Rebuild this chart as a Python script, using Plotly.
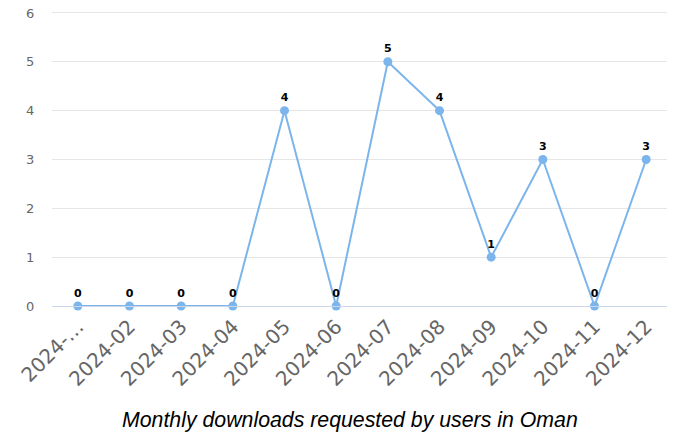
import plotly.graph_objects as go

months = ["2024-01", "2024-02", "2024-03", "2024-04", "2024-05", "2024-06",
          "2024-07", "2024-08", "2024-09", "2024-10", "2024-11", "2024-12"]
tick_labels = ["2024-…", "2024-02", "2024-03", "2024-04", "2024-05", "2024-06",
               "2024-07", "2024-08", "2024-09", "2024-10", "2024-11", "2024-12"]
downloads = [0, 0, 0, 0, 4, 0, 5, 4, 1, 3, 0, 3]
y_ticks = [0, 1, 2, 3, 4, 5, 6]
title_text = "Monthly downloads requested by users in Oman"

fig = go.Figure()
fig.add_trace(go.Scatter(
    x=months, y=downloads,
    mode="lines+markers+text",
    line=dict(color="#7cb5ec", width=2),
    marker=dict(color="#7cb5ec", size=9),
    text=[str(v) for v in downloads],
    textposition="top center",
    textfont=dict(family="DejaVu Sans", size=11, color="#000000", weight="bold"),
    cliponaxis=False,
    hoverinfo="x+y",
))

fig.update_layout(
    width=667, height=424,
    margin=dict(l=44, r=3, t=3, b=126, autoexpand=False),
    plot_bgcolor="#ffffff", paper_bgcolor="#ffffff",
    showlegend=False,
    font=dict(family="DejaVu Sans", color="#666666"),
    annotations=[dict(
        text=title_text, xref="paper", yref="paper",
        x=0.48, y=-0.386, xanchor="center", yanchor="middle",
        showarrow=False,
        font=dict(family="Liberation Sans, Arial", size=21.3, color="#000000", style="italic"),
    )],
)
fig.update_xaxes(
    type="category",
    tickmode="array", tickvals=months, ticktext=tick_labels,
    tickangle=-45,
    tickfont=dict(family="DejaVu Sans", size=20, color="#666666"),
    showgrid=False, automargin=False,
    showline=True, linecolor="#ccd6eb", linewidth=1,
    ticks="", range=[-0.5, 11.5],
)
fig.update_yaxes(
    range=[0, 6.04], tickmode="array", tickvals=y_ticks, automargin=False,
    ticklabeloverflow="allow",
    showgrid=True, gridcolor="#e6e6e6", gridwidth=1,
    zeroline=False, showline=False,
    tickfont=dict(family="DejaVu Sans", size=13, color="#666666"),
    ticks="outside", ticklen=14, tickcolor="rgba(0,0,0,0)",
)

fig.write_html("out.html")
